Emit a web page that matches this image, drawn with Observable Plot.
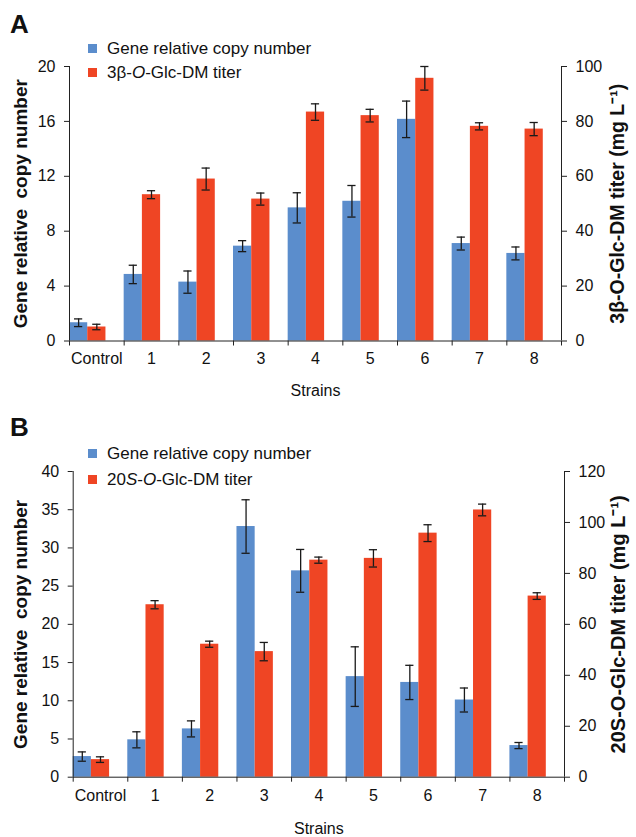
<!DOCTYPE html>
<html><head><meta charset="utf-8">
<script src="https://cdn.jsdelivr.net/npm/d3@7"></script>
<script src="https://cdn.jsdelivr.net/npm/@observablehq/plot@0.6"></script>
<style>
body{margin:0;background:#fff;font-family:"Liberation Sans",Arial,sans-serif;color:#111;}
.panel{position:relative;width:636px;}
.panel svg{display:block;}
.tag{position:absolute;font-weight:bold;font-size:26px;line-height:26px;}
.leg{position:absolute;font-size:17px;line-height:17px;height:17px;display:flex;align-items:center;white-space:nowrap;}
.sw{width:9px;height:9px;margin-right:10px;flex:none;}
</style></head><body>
<div id="A" class="panel"></div>
<div id="B" class="panel"></div>
<script>
// ---------- data ----------
const strains = ["Control", "1", "2", "3", "4", "5", "6", "7", "8"];
const seriesNames = ["copy", "titer"];
const colors = ["#5b8dcc", "#ef4524"];

// Panel A
const copyA     = [1.33, 4.85, 4.29, 6.91, 9.70, 10.18, 16.15, 7.10, 6.38];
const copyAErr  = [0.28, 0.67, 0.81, 0.40, 1.10, 1.15, 1.33, 0.47, 0.47];
const titerA    = [5.1, 53.3, 59.0, 51.7, 83.4, 82.1, 95.7, 78.2, 77.2];
const titerAErr = [1.0, 1.45, 4.0, 2.2, 3.0, 2.3, 4.3, 1.3, 2.4];
const leftTicksA  = [0, 4, 8, 12, 16, 20];
const rightTicksA = [0, 20, 40, 60, 80, 100];

// Panel B
const copyB     = [2.7, 4.89, 6.32, 32.8, 27.0, 13.16, 12.4, 10.1, 4.14];
const copyBErr  = [0.61, 1.05, 1.05, 3.5, 2.8, 3.9, 2.24, 1.57, 0.4];
const titerB    = [6.9, 67.7, 52.2, 49.3, 85.2, 85.9, 95.8, 104.9, 71.1];
const titerBErr = [1.1, 1.6, 1.2, 3.6, 1.2, 3.4, 3.3, 2.3, 1.3];
const leftTicksB  = [0, 5, 10, 15, 20, 25, 30, 35, 40];
const rightTicksB = [0, 20, 40, 60, 80, 100, 120];

const font = "Liberation Sans, Arial, sans-serif";

function panel(el, o) {
  const k = o.rightMax / o.leftMax; // titer units per left unit
  const rows = [];
  strains.forEach((s, i) => {
    rows.push({i, slot: 0, series: "copy", v: o.copy[i], e: o.copyErr[i]});
    rows.push({i, slot: 1, series: "titer", v: o.titer[i] / k, e: o.titerErr[i] / k});
  });
  const cx = d => d.i + (d.slot + 0.5) / 3;
  const cap = 0.075;
  const axisStroke = "#222";
  const p = Plot.plot({
    width: 636, height: o.height,
    marginTop: o.mt, marginBottom: o.mb, marginLeft: o.ml, marginRight: o.mr,
    style: {fontFamily: font, fontSize: "16px", color: "#111", background: "#fff"},
    x: {domain: [0, strains.length], axis: null},
    y: {domain: [0, o.leftMax], axis: null},
    color: {domain: seriesNames, range: colors},
    marks: [
      Plot.rectY(rows, {x1: d => d.i + d.slot / 3, x2: d => d.i + (d.slot + 1) / 3, y1: 0, y2: "v", fill: "series"}),
      Plot.ruleX(rows, {x: cx, y1: d => d.v - d.e, y2: d => d.v + d.e, stroke: "#1a1a1a", strokeWidth: 1.3}),
      Plot.ruleY(rows, {x1: d => cx(d) - cap, x2: d => cx(d) + cap, y: d => d.v + d.e, stroke: "#1a1a1a", strokeWidth: 1.3}),
      Plot.ruleY(rows, {x1: d => cx(d) - cap, x2: d => cx(d) + cap, y: d => d.v - d.e, stroke: "#1a1a1a", strokeWidth: 1.3}),
      // axis lines
      Plot.ruleX([0], {y1: 0, y2: o.leftMax, stroke: axisStroke}),
      Plot.ruleX([strains.length], {y1: 0, y2: o.leftMax, stroke: axisStroke}),
      Plot.ruleY([0], {stroke: axisStroke}),
      Plot.axisY({anchor: "left", ticks: o.leftTicks, tickSize: 5, tickPadding: 9, label: null, stroke: axisStroke}),
      Plot.axisY({anchor: "right", ticks: o.rightTicks.map(t => t / k), tickFormat: d => Math.round(d * k), tickSize: 5, tickPadding: 9, label: null, stroke: axisStroke}),
      Plot.axisX({ticks: d3.range(strains.length + 1), tickFormat: () => "", tickSize: 5, label: null, stroke: axisStroke}),
      Plot.axisX({ticks: strains.map((s, i) => i + 0.5), tickFormat: d => strains[Math.floor(d)], tickSize: 0, tickPadding: 12, label: null}),
      // axis titles
      Plot.text([o.leftLabel], {frameAnchor: "left", textAnchor: "middle", lineAnchor: "middle", rotate: -90, dx: o.ldx, fontWeight: "bold", fontSize: 19, fill: "#111"}),
      Plot.text([o.rightLabel], {frameAnchor: "right", textAnchor: "middle", lineAnchor: "middle", rotate: -90, dx: o.rdx, fontWeight: "bold", fontSize: o.rfs, fill: "#111"}),
      Plot.text(["Strains"], {frameAnchor: "bottom", lineAnchor: "middle", dy: o.sdy, fontSize: 16, fill: "#111"})
    ]
  });
  el.appendChild(p);
  const tag = document.createElement("div");
  tag.className = "tag"; tag.textContent = o.tag;
  tag.style.left = "10px"; tag.style.top = o.tagTop + "px";
  el.appendChild(tag);
  o.legend.forEach((html, j) => {
    const r = document.createElement("div");
    r.className = "leg";
    r.style.left = "88px"; r.style.top = o.legTops[j] + "px";
    r.innerHTML = `<span class="sw" style="background:${colors[j]}"></span><span>${html}</span>`;
    el.appendChild(r);
  });
}

panel(document.getElementById("A"), {
  tag: "A", tagTop: 11, height: 400, mt: 66, mb: 59.5, ml: 69, mr: 75,
  copy: copyA, copyErr: copyAErr, titer: titerA, titerErr: titerAErr,
  leftMax: 20, rightMax: 100, leftTicks: leftTicksA, rightTicks: rightTicksA,
  leftLabel: "Gene relative\u00a0 copy number", rightLabel: "3β-O-Glc-DM titer (mg L⁻¹)",
  ldx: -49, rdx: 56, sdy: 50, rfs: 19.5,
  legend: ["Gene relative copy number", "3β-<i>O</i>-Glc-DM titer"], legTops: [39.5, 63.5]
});
panel(document.getElementById("B"), {
  tag: "B", tagTop: 14, height: 437, mt: 71, mb: 60.3, ml: 72.7, mr: 72,
  copy: copyB, copyErr: copyBErr, titer: titerB, titerErr: titerBErr,
  leftMax: 40, rightMax: 120, leftTicks: leftTicksB, rightTicks: rightTicksB,
  leftLabel: "Gene relative\u00a0 copy number", rightLabel: "20S-O-Glc-DM titer (mg L⁻¹)",
  ldx: -52, rdx: 54, sdy: 52, rfs: 20,
  legend: ["Gene relative copy number", "20<i>S</i>-<i>O</i>-Glc-DM titer"], legTops: [44.5, 70.5]
});
</script>
</body></html>
